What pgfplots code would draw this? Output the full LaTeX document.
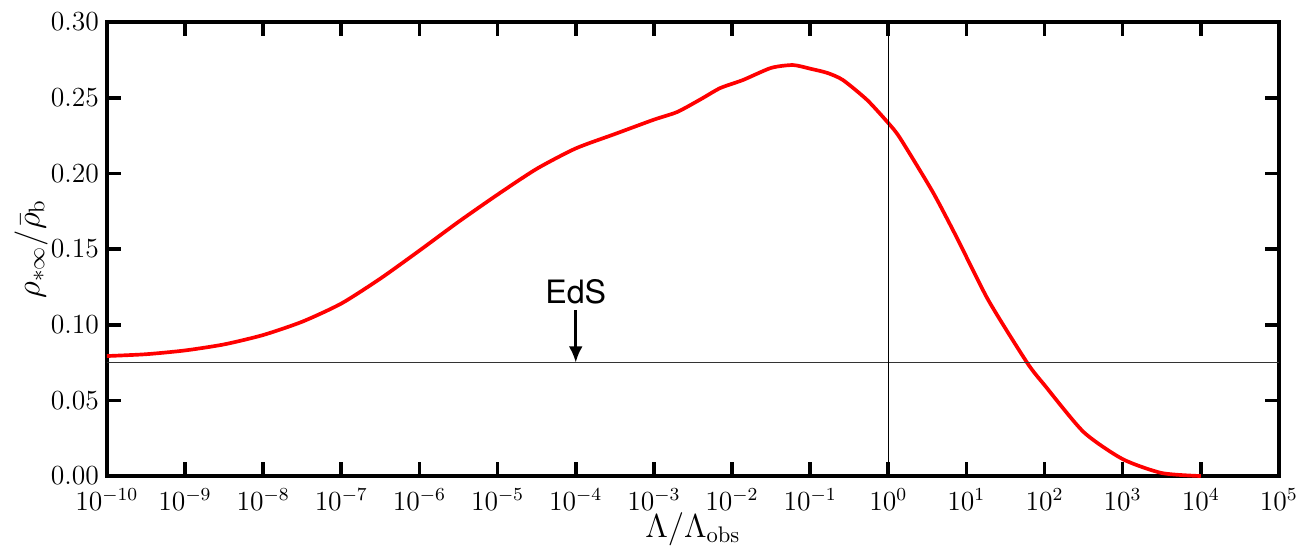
\documentclass[border=0pt]{standalone}
\usepackage{fontspec}
\setsansfont{TeX Gyre Heros}
\usepackage{pgfplots}
\pgfplotsset{compat=1.18}
\usetikzlibrary{arrows.meta}

\begin{document}
\begin{tikzpicture}
% fixed page frame around the axis box
\useasboundingbox (-46.5pt,-30pt) rectangle (517.9pt,207pt);
\begin{axis}[
  at={(0,0)}, anchor=south west,
  scale only axis,
  width=509.6pt, height=197.4pt,
  xmode=log,
  xmin=1e-10, xmax=1e5,
  ymin=0, ymax=0.30,
  xtick={1e-10,1e-9,1e-8,1e-7,1e-6,1e-5,1e-4,1e-3,1e-2,1e-1,1e0,1e1,1e2,1e3,1e4,1e5},
  xminorticks=false,
  ytick={0,0.05,0.10,0.15,0.20,0.25,0.30},
  yticklabel style={/pgf/number format/.cd,fixed,fixed zerofill,precision=2},
  tick label style={font=\fontsize{12}{14}\selectfont},
  xticklabel style={yshift=-2pt},
  major tick length=6pt,
  tick style={line width=1.6pt, black},
  axis line style={line width=1.7pt},
  clip=false,
]
\addplot[red, line width=1.6pt, smooth, tension=0.4] coordinates {
  (1e-10,0.0793) (3.162e-10,0.0805) (1e-9,0.0830) (3.162e-9,0.0870)
  (1e-8,0.0932) (3.162e-8,0.1020) (1e-7,0.1140) (3.162e-7,0.1305)
  (1e-6,0.1490) (3.162e-6,0.1680) (1e-5,0.1860) (3.162e-5,0.2030)
  (1e-4,0.2165) (3.162e-4,0.2260) (1e-3,0.2355) (1.995e-3,0.2406)
  (3.981e-3,0.2490) (7.079e-3,0.2564) (1.380e-2,0.2617) (3.162e-2,0.2697)
  (6.026e-2,0.2716) (1e-1,0.2692) (0.1660,0.2664) (0.2630,0.2617)
  (0.5370,0.2485) (1,0.2333) (1.413,0.2234) (3.715,0.1877)
  (7.586,0.1573) (19.05,0.1163) (60.26,0.0747) (100,0.0601)
  (316.2,0.0291) (1000,0.0112) (3162,0.0020) (10000,0.0000)
};
% Einstein--de Sitter level and the observed value
\addplot[black!80, line width=0.6pt] coordinates {(1e-10,0.075) (1e5,0.075)};
\addplot[black, line width=0.6pt] coordinates {(1,0) (1,0.30)};
\draw[line width=1.2pt, -{Latex[length=7pt,width=6pt]}] (axis cs:1e-4,0.1097) -- (axis cs:1e-4,0.0750);
\node[font=\sffamily\fontsize{14}{16}\selectfont, anchor=south, inner sep=1pt] at (axis cs:1e-4,0.112) {EdS};
% axis titles
\node[font=\fontsize{14}{16}\selectfont] at ([yshift=-23pt]rel axis cs:0.5,0) {$\Lambda/\Lambda_{\rm obs}$};
\node[font=\fontsize{14}{16}\selectfont, rotate=90] at ([xshift=-33pt]rel axis cs:0,0.5) {$\rho_{*\infty}/\bar{\rho}_{\rm b}$};
\end{axis}
\end{tikzpicture}
\end{document}
